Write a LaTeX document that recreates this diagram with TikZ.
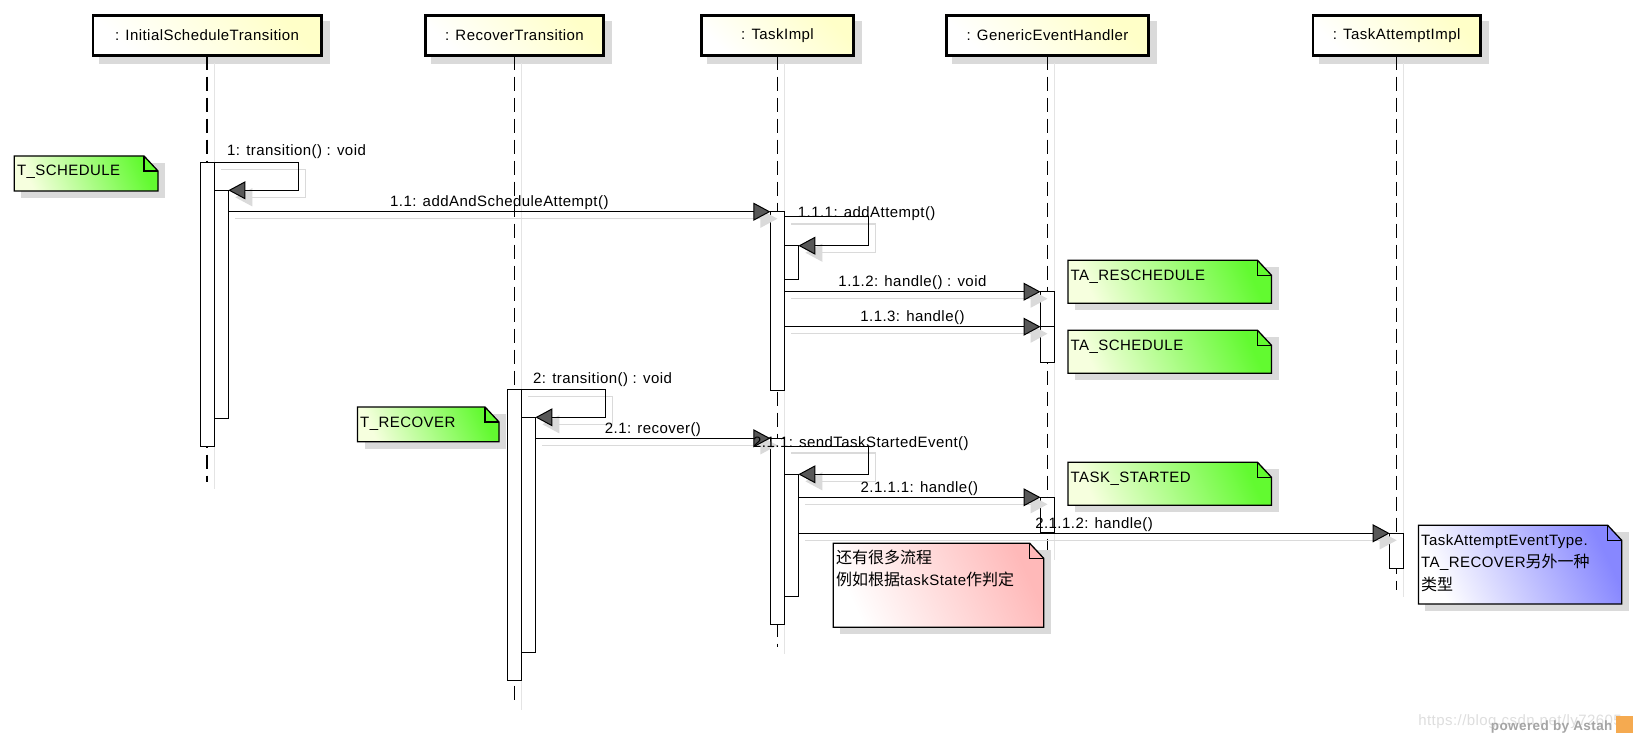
\documentclass[tikz,border=0pt]{standalone}
\usepackage{fontspec}
\setmainfont{Liberation Sans}[LetterSpace=3]
\newfontfamily\cjk{Noto Sans CJK SC}
\usetikzlibrary{arrows.meta}
\definecolor{headY}{RGB}{255,255,200}
\definecolor{noteGl}{RGB}{246,255,222}
\definecolor{noteG}{RGB}{98,250,48}
\definecolor{noteP}{RGB}{255,185,185}
\definecolor{noteB}{RGB}{135,135,255}
\definecolor{shadowc}{RGB}{218,218,218}
\definecolor{lshadow}{RGB}{228,228,228}
\definecolor{arrowF}{RGB}{88,88,88}
\definecolor{wmgray}{RGB}{222,222,222}
\definecolor{astahgray}{RGB}{165,165,165}
\definecolor{astahorange}{RGB}{245,170,80}
\newcommand\zh[1]{{\cjk\fontsize{16}{18}\selectfont #1}}
\newcommand\headbox[4]{%
  \fill[shadowc] (#2+7,21) rectangle (#3+7,64);
  \node[head, minimum width={#3-#2-2.6}] (#1) at ({(#2+#3)/2},35.5) {#4};
}
\newcommand\umlnote[8]{%
  \node[notebox, minimum width={#4-#2}, minimum height={#5-#3}, anchor=north west] (#1) at (#2,#3) {};
  \fill[shadowc] ([shift={(7,7)}]#1.north west) rectangle ([shift={(7,7)}]#1.south east);
  \shade[left color=#6, right color=#7, shading angle=115]
    (#1.north west) -- ([xshift=-14pt]#1.north east) -- ([yshift=-15pt]#1.north east) -- (#1.south east) -- (#1.south west) -- cycle;
  \draw[noteline] (#1.north west) -- ([xshift=-14pt]#1.north east) -- ([yshift=-15pt]#1.north east) -- (#1.south east) -- (#1.south west) -- cycle;
  \draw[noteline] ([xshift=-14pt]#1.north east) |- ([yshift=-15pt]#1.north east);
  \node[notetext] (#1-t) at ([shift={(2.5,20)}]#1.north west) {#8};
}
\newcommand\straightmsg[3]{%
  \draw[mshadow] ([shift={(7,7)}]#1) -- ([shift={(7,7)}]#2);
  \draw[msg] (#1) -- (#2) node[mlabel] {#3};
}
\newcommand\selfmsg[3]{%
  \draw[mshadow] ([shift={(7,7)}]#1) -- ++(#3,0) |- ([shift={(7,7)}]#2);
  \draw[msg] (#1) -- ++(#3,0) |- (#2);
}
\begin{document}
\begin{tikzpicture}[x=1pt,y=-1pt,
  every node/.append style={font=\fontsize{15}{18}\selectfont},
  head/.style={draw=black, line width=2.6pt, left color=white, right color=headY, shading angle=135, minimum height=40.4, inner sep=0, outer sep=0},
  act/.style={draw=black, fill=white, line width=1pt, minimum width=14, inner sep=0, outer sep=0},
  lifeline/.style={draw=black, line width=1.3pt, dash pattern=on 14pt off 7pt},
  lshadowline/.style={draw=lshadow, line width=1.2pt},
  msg/.style={draw=black, line width=1pt, -{Triangle[length=17pt,width=18pt,fill=arrowF]}},
  mshadow/.style={draw=shadowc, line width=1.2pt, -{Triangle[length=17pt,width=18pt,fill=shadowc]}},
  mlabel/.style={midway, anchor=base, yshift=5pt, inner sep=0},
  slabel/.style={anchor=base west, inner sep=0},
  notebox/.style={inner sep=0, outer sep=0},
  noteline/.style={draw=black, line width=1.3pt, line join=miter},
  notetext/.style={anchor=base west, inner sep=0},
]
\fill[white] (0,0) rectangle (1635,735);
\useasboundingbox (0,0) rectangle (1635,735);

% heads
\headbox{h1}{91.5}{322.7}{: InitialScheduleTransition}
\headbox{h2}{424}{605}{: RecoverTransition}
\headbox{h3}{700}{855}{: TaskImpl}
\headbox{h4}{945}{1150}{: GenericEventHandler}
\headbox{h5}{1311.7}{1481.6}{: TaskAttemptImpl}

% lifelines
\foreach \h/\e in {h1/482,h2/703,h3/647,h4/553,h5/590}{
  \coordinate (\h-y) at (0,\e);
  \coordinate (\h-end) at (\h.south |- \h-y);
  \draw[lshadowline] ([shift={(7,7)}]\h.south) -- ([shift={(7,7)}]\h-end);
  \draw[lifeline] (\h.south) -- (\h-end);
}

% activations
\node[act, anchor=north, minimum height=283.7] (a1) at (207.35,162.3) {};
\node[act, anchor=north, minimum height=228] (a1b) at (221.35,190.3) {};
\node[act, anchor=north, minimum height=290.7] (a2) at (514.45,389.3) {};
\node[act, anchor=north, minimum height=235] (a2b) at (528.45,417.3) {};
\node[act, anchor=north, minimum height=178.3] (a3) at (777.4,211.7) {};
\node[act, anchor=north, minimum height=34.3] (a3b) at (791.4,245.7) {};
\node[act, anchor=north, minimum height=186] (a3c) at (777.4,438.3) {};
\node[act, anchor=north, minimum height=122] (a3d) at (791.4,474.3) {};
\node[act, anchor=north, minimum height=35] (a4) at (1047.5,291.7) {};
\node[act, anchor=north, minimum height=35.3] (a4b) at (1047.5,326.7) {};
\node[act, anchor=north, minimum height=35.4] (a4c) at (1047.5,497.3) {};
\node[act, anchor=north, minimum height=35] (a5) at (1396.7,533.3) {};

% messages
\selfmsg{a1.north east}{a1b.north east}{84}
\coordinate (s11) at (a1b.east |- a3.north);
\straightmsg{s11}{a3.north west}{1.1: addAndScheduleAttempt()}
\coordinate (s111) at ([yshift=-5.3pt]a3.north east);
\selfmsg{s111}{a3b.north east}{84}
\coordinate (s112) at (a3.east |- a4.north);
\straightmsg{s112}{a4.north west}{1.1.2: handle() : void}
\coordinate (s113) at (a3.east |- a4b.north);
\straightmsg{s113}{a4b.north west}{1.1.3: handle()}
\selfmsg{a2.north east}{a2b.north east}{84}
\coordinate (s21) at (a2b.east |- a3c.north);
\straightmsg{s21}{a3c.north west}{2.1: recover()}
\coordinate (s211) at ([yshift=-7.7pt]a3c.north east);
\selfmsg{s211}{a3d.north east}{84}
\coordinate (s2111) at (a3d.east |- a4c.north);
\straightmsg{s2111}{a4c.north west}{2.1.1.1: handle()}
\coordinate (s2112) at (a3d.east |- a5.north);
\straightmsg{s2112}{a5.north west}{2.1.1.2: handle()}

% self-message labels
\node[slabel] (l1) at (227,156) {1: transition() : void};
\node[slabel] (l111) at (797.7,218) {1.1.1: addAttempt()};
\node[slabel] (l2) at (533,383.5) {2: transition() : void};
\node[slabel] (l211) at (753,447.5) {2.1.1: sendTaskStartedEvent()};

% notes
\umlnote{nTS}{14.3}{156}{158}{191}{noteGl}{noteG}{T\_SCHEDULE}
\umlnote{nTR}{357.5}{407}{499}{441.7}{noteGl}{noteG}{T\_RECOVER}
\umlnote{nTAR}{1068}{260.3}{1271.5}{303.3}{noteGl}{noteG}{TA\_RESCHEDULE}
\umlnote{nTAS}{1068}{330.3}{1271.5}{373.3}{noteGl}{noteG}{TA\_SCHEDULE}
\umlnote{nTSt}{1068}{462.3}{1271.5}{505.3}{noteGl}{noteG}{TASK\_STARTED}
\umlnote{nPink}{833.3}{543.3}{1043.7}{627.3}{white}{noteP}{\zh{还有很多流程}}
\node[notetext] (nPink-2) at ([shift={(2.5,42.4)}]nPink.north west) {\zh{例如根据}taskState\zh{作判定}};
\umlnote{nBlue}{1418.4}{525.3}{1621.7}{604}{white}{noteB}{TaskAttemptEventType.}
\node[notetext] (nBlue-2) at ([shift={(2.5,42.4)}]nBlue.north west) {TA\_RECOVER\zh{另外一种}};
\node[notetext] (nBlue-3) at ([shift={(2.5,65)}]nBlue.north west) {\zh{类型}};

% watermark
\node[anchor=base east, text=wmgray, inner sep=0] (wm) at (1622,725) {https://blog.csdn.net/ly72605};
\node[anchor=base west, text=astahgray, inner sep=0, font=\fontsize{13.5}{16}\selectfont\bfseries] (astah) at (1490.7,730.5) {powered by Astah};
\node[fill=astahorange, minimum size=17, inner sep=0] (logo) at (1624.5,724) {};
\end{tikzpicture}
\end{document}
